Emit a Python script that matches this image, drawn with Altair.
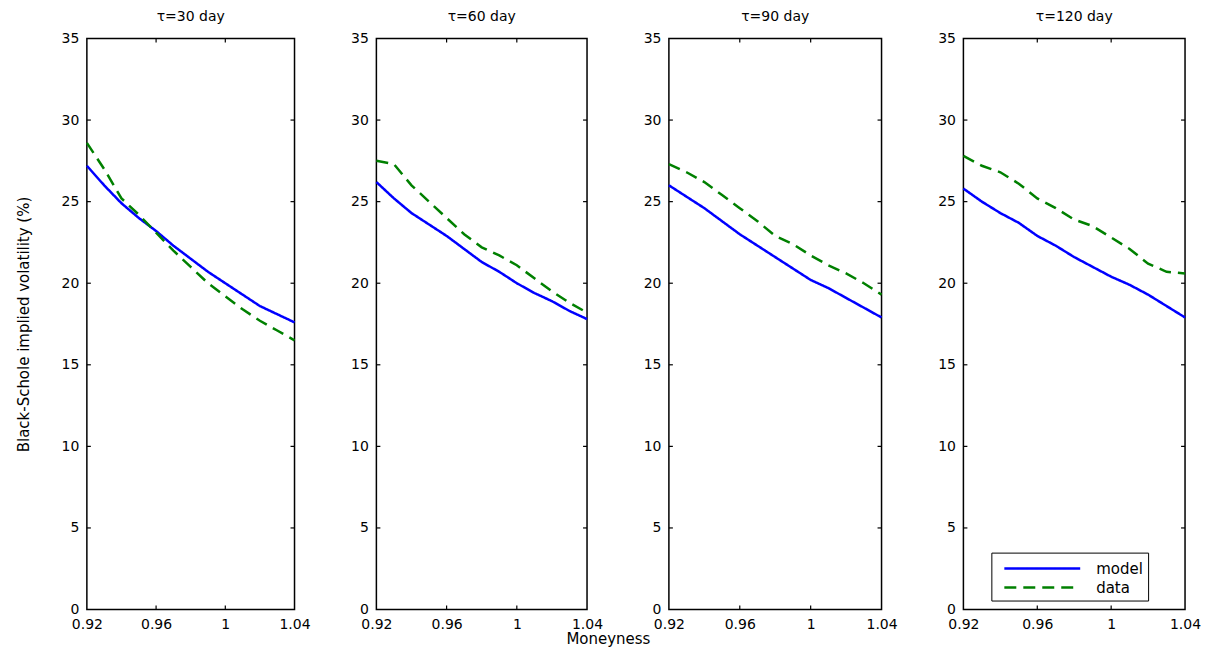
import altair as alt
import pandas as pd

FONT = "DejaVu Sans"

moneyness = [0.92, 0.93, 0.94, 0.95, 0.96, 0.97, 0.98, 0.99, 1.00, 1.01, 1.02, 1.03, 1.04]
panel_titles = ["τ=30 day", "τ=60 day", "τ=90 day", "τ=120 day"]
series_names = ["model", "data"]

model_30 = [27.2, 26.0, 24.9, 24.0, 23.2, 22.3, 21.5, 20.7, 20.0, 19.3, 18.6, 18.1, 17.6]
data_30 = [28.6, 27.0, 25.2, 24.2, 23.1, 22.0, 21.0, 20.0, 19.2, 18.4, 17.7, 17.1, 16.5]

model_60 = [26.2, 25.2, 24.3, 23.6, 22.9, 22.1, 21.3, 20.7, 20.0, 19.4, 18.9, 18.3, 17.8]
data_60 = [27.5, 27.3, 26.0, 25.0, 24.0, 23.0, 22.2, 21.7, 21.1, 20.3, 19.5, 18.8, 18.2]

model_90 = [26.0, 25.3, 24.6, 23.8, 23.0, 22.3, 21.6, 20.9, 20.2, 19.7, 19.1, 18.5, 17.9]
data_90 = [27.3, 26.8, 26.2, 25.4, 24.6, 23.8, 22.9, 22.4, 21.7, 21.1, 20.6, 20.0, 19.3]

model_120 = [25.8, 25.0, 24.3, 23.7, 22.9, 22.3, 21.6, 21.0, 20.4, 19.9, 19.3, 18.6, 17.9]
data_120 = [27.8, 27.2, 26.8, 26.1, 25.2, 24.6, 23.9, 23.5, 22.8, 22.1, 21.2, 20.7, 20.6]

x_label_values = [0.92, 0.96, 1.00, 1.04]
y_label_values = [0, 5, 10, 15, 20, 25, 30, 35]
x_tick_values = [0.96, 1.00]
y_tick_values = [5, 10, 15, 20, 25, 30]

panel_series = [(model_30, data_30), (model_60, data_60), (model_90, data_90), (model_120, data_120)]
panel_widths = [208, 211, 213, 222]
PLOT_H = 572
TICK = 4

xs = alt.Scale(domain=[0.92, 1.04], nice=False, zero=False)
ys = alt.Scale(domain=[0, 35], nice=False, zero=False)
color_scale = alt.Scale(domain=series_names, range=["#0000ff", "#008000"])
dash_scale = alt.Scale(domain=series_names, range=[[1, 0], [12, 7]])


def make_panel(i):
    model_vals, data_vals = panel_series[i]
    rows = []
    for m, v in zip(moneyness, model_vals):
        rows.append({"m": m, "v": v, "series": "model"})
    for m, v in zip(moneyness, data_vals):
        rows.append({"m": m, "v": v, "series": "data"})
    df = pd.DataFrame(rows)
    w = panel_widths[i]

    if i == 3:
        leg = alt.Legend(
            title=None, orient="none", legendX=28, legendY=515,
            strokeColor="black", fillColor="white", padding=5,
            symbolType="M-4,0H4", symbolSize=361, symbolStrokeWidth=2.5,
            labelFont=FONT, labelFontSize=15, labelColor="black", labelOffset=43,
            rowPadding=0, symbolOffset=35,
        )
    else:
        leg = None

    y_axis = alt.Axis(
        values=y_label_values, grid=False, ticks=False, domain=False,
        labelFont=FONT, labelFontSize=14, labelColor="black", labelPadding=8,
        title="Black-Schole implied volatility (%)" if i == 0 else None,
        titleFont=FONT, titleFontSize=15, titleFontWeight="normal", titleColor="black",
        titlePadding=30,
    )
    x_axis = alt.Axis(
        values=x_label_values, grid=False, ticks=False, domain=False,
        labelExpr="datum.value == 1 ? '1' : format(datum.value, '.2f')",
        labelFont=FONT, labelFontSize=14, labelColor="black", labelPadding=8,
        title=None, labelFlush=False,
    )

    lines = alt.Chart(df).mark_line(strokeWidth=2.5).encode(
        x=alt.X("m:Q", scale=xs, axis=x_axis),
        y=alt.Y("v:Q", scale=ys, axis=y_axis),
        color=alt.Color("series:N", scale=color_scale, legend=leg, sort=series_names),
        strokeDash=alt.StrokeDash("series:N", scale=dash_scale, legend=leg, sort=series_names),
        detail="series:N",
    )

    ydf = pd.DataFrame({"v": y_tick_values})
    xdf = pd.DataFrame({"m": x_tick_values})
    tl = alt.Chart(ydf).mark_rule(color="black", strokeWidth=1.2).encode(
        y=alt.Y("v:Q", scale=ys, axis=y_axis), x=alt.value(0), x2=alt.value(TICK))
    tr = alt.Chart(ydf).mark_rule(color="black", strokeWidth=1.2).encode(
        y=alt.Y("v:Q", scale=ys, axis=y_axis), x=alt.value(w), x2=alt.value(w - TICK))
    tb = alt.Chart(xdf).mark_rule(color="black", strokeWidth=1.2).encode(
        x=alt.X("m:Q", scale=xs, axis=x_axis), y=alt.value(PLOT_H), y2=alt.value(PLOT_H - TICK))
    tt = alt.Chart(xdf).mark_rule(color="black", strokeWidth=1.2).encode(
        x=alt.X("m:Q", scale=xs, axis=x_axis), y=alt.value(0), y2=alt.value(TICK))

    return alt.layer(lines, tl, tr, tb, tt).properties(
        width=w, height=PLOT_H,
        title=alt.TitleParams(panel_titles[i], font=FONT, fontSize=14, fontWeight="normal",
                              color="black", offset=8, anchor="middle"),
    )


chart = alt.hconcat(*[make_panel(i) for i in range(4)], spacing=82, bounds="flush").resolve_scale(
    color="independent", strokeDash="independent"
).properties(
    title=alt.TitleParams("Moneyness", orient="bottom", anchor="middle", font=FONT, fontSize=15,
                          fontWeight="normal", color="black", offset=0),
    padding={"left": 7, "top": 0, "right": 4, "bottom": 0},
).configure_view(stroke="black", strokeWidth=1.5)

chart.save("out.html", embed_options={"renderer": "svg", "actions": False})
